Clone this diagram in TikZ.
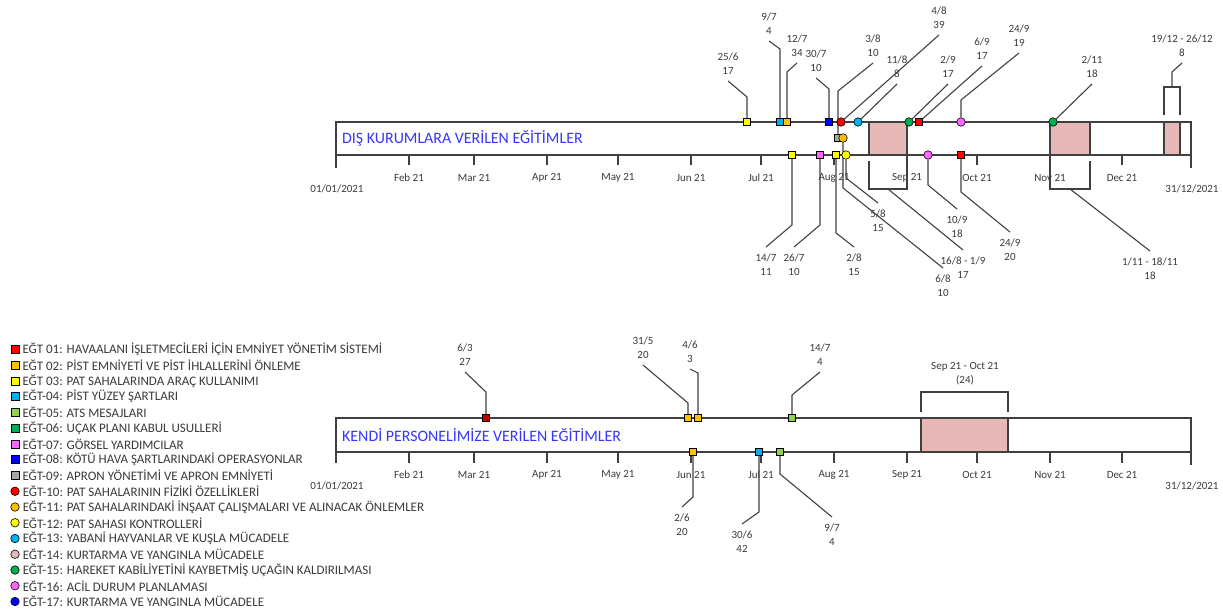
\documentclass[tikz,border=0pt]{standalone}
\usepackage{fontspec}
\setmainfont{Carlito}
\usepackage{tikz}
\usetikzlibrary{calc}
\usetikzlibrary{positioning}
\usetikzlibrary{backgrounds}

\definecolor{egtred}{HTML}{FF0000}
\definecolor{egtdarkred}{HTML}{C00000}
\definecolor{egtorange}{HTML}{FFC000}
\definecolor{egtyellow}{HTML}{FFFF00}
\definecolor{egtsky}{HTML}{00B0F0}
\definecolor{egtlime}{HTML}{92D050}
\definecolor{egtgreen}{HTML}{00B050}
\definecolor{egtpink}{HTML}{FF66FF}
\definecolor{egtblue}{HTML}{0000FF}
\definecolor{egtgray}{HTML}{A6A6A6}
\definecolor{egtrose}{HTML}{E6B8B7}
\definecolor{linegray}{HTML}{404040}
\definecolor{textgray}{HTML}{3A3A3A}
\definecolor{titleblue}{HTML}{3535FF}

\tikzset{
  hat/.style={draw=linegray, line width=1.1pt},
  kare/.style={rectangle, draw=black, line width=0.6pt, minimum size=7pt, inner sep=0pt, fill=#1},
  yuvarlak/.style={circle, draw=black, line width=0.6pt, minimum size=8.5pt, inner sep=0pt, fill=#1},
  etiket/.style={font=\fontsize{11}{14}\selectfont, text=textgray, align=center, inner sep=1.5pt},
  ay/.style={font=\fontsize{11}{13}\selectfont, text=textgray},
  aralik/.style={fill=egtrose, draw=linegray, line width=1.1pt},
  baslik/.style={font=\fontsize{15.9}{18}\selectfont, text=titleblue, anchor=west, inner sep=0pt},
  lejant/.style={font=\fontsize{13}{15}\selectfont, text=textgray, inner sep=0pt},
}

\begin{document}
\begin{tikzpicture}[x=1pt, y=-1pt]
  \useasboundingbox (0,0) rectangle (1223,615);

  % ---- DIS KURUMLAR ----
  \draw [hat] (336,122) rectangle (1191,155);
  \draw [hat] (336,155) -- (336,168); % baslangic
  \draw [hat] (1191,155) -- (1191,168); % bitis
  \node [baslik] (dbaslik) at (342,138) {DIŞ KURUMLARA VERİLEN EĞİTİMLER};
  \node [ay] (dbas) at (337,189) {01/01/2021};
  \node [ay] (dson) at (1192,189) {31/12/2021};

  % ---- KENDI PERSONEL ----
  \draw [hat] (336,418) rectangle (1191,452);
  \draw [hat] (336,452) -- (336,463);
  \draw [hat] (1191,452) -- (1191,465);
  \node [baslik] (kbaslik) at (342,435) {KENDİ PERSONELİMİZE VERİLEN EĞİTİMLER};
  \node [ay] (kbas) at (337,486) {01/01/2021};
  \node [ay] (kson) at (1192,486) {31/12/2021};

  % aylar, iki cizgi icin
  \foreach \x/\ay in {409/Feb 21, 474/Mar 21, 547/Apr 21, 618/May 21, 691/Jun 21, 761/Jul 21, 834/Aug 21, 907/Sep 21, 977/Oct 21, 1050/Nov 21, 1122/Dec 21} {
    \draw [hat] (\x,155) -- (\x,165);
    \node [ay] (dm\x) at (\x,178) {\ay};
    \draw [hat] (\x,452) -- (\x,463);
    \node [ay] (km\x) at (\x,475) {\ay};
  }

  % araliklar
  \draw [aralik] (869,122) rectangle (907,155);
  \draw [aralik] (1050,122) rectangle (1090,155);
  \draw [aralik] (1164,122) rectangle (1180,155);
  \draw [aralik] (921,418) rectangle (1008,452);
  \draw [hat] (869,161) -- (869,189) -- (907,189) -- (907,161);
  \draw [hat] (1050,161) -- (1050,189) -- (1090,189) -- (1090,161);
  \draw [hat] (1164,115) -- (1164,87) -- (1180,87) -- (1180,115);
  \draw [hat] (921,412) -- (921,392) -- (1008,392) -- (1008,412);
  \coordinate (da1) at (888,189);
  \coordinate (da2) at (1070,189);
  \coordinate (da3) at (1172,87);
  \coordinate (ka4) at (965,392);

  % isaretler: dis kurumlar, ust
  \node [kare=egtyellow] (d01) at (747,122) {};
  \node [kare=egtsky] (d02) at (780,122) {};
  \node [kare=egtorange] (d03) at (787,122) {};
  \node [kare=egtblue] (d04) at (829,122) {};
  \node [kare=egtgray] (d05) at (838,138) {};
  \node [yuvarlak=egtorange] (d06) at (843,138) {};
  \node [yuvarlak=egtred] (d07) at (841,122) {};
  \node [yuvarlak=egtsky] (d08) at (858,122) {};
  \node [yuvarlak=egtgreen] (d09) at (909,122) {};
  \node [kare=egtred] (d10) at (919,122) {};
  \node [yuvarlak=egtpink] (d11) at (961,122) {};
  \node [yuvarlak=egtgreen] (d12) at (1053,122) {};
  % alt
  \node [kare=egtyellow] (d13) at (792,155) {};
  \node [kare=egtpink] (d14) at (820,155) {};
  \node [kare=egtyellow] (d15) at (836,155) {};
  \node [yuvarlak=egtyellow] (d16) at (846,155) {};
  \node [yuvarlak=egtpink] (d17) at (928,155) {};
  \node [kare=egtred] (d18) at (961,155) {};

  % etiketler
  \coordinate (k01) at (728,81);   \node [etiket, above=5pt of k01] (e01) {25/6\\17};
  \coordinate (k02) at (769,41);   \node [etiket, above=5pt of k02] (e02) {9/7\\4};
  \coordinate (k03) at (797,63);   \node [etiket, above=5pt of k03] (e03) {12/7\\34};
  \coordinate (k04) at (816,78);   \node [etiket, above=5pt of k04] (e04) {30/7\\10};
  \coordinate (k05) at (873,63);   \node [etiket, above=5pt of k05] (e05) {3/8\\10};
  \coordinate (k06) at (943,268);  \node [etiket, below=5pt of k06] (e06) {6/8\\10};
  \coordinate (k07) at (939,35);   \node [etiket, above=5pt of k07] (e07) {4/8\\39};
  \coordinate (k08) at (897,84);   \node [etiket, above=5pt of k08] (e08) {11/8\\8};
  \coordinate (k09) at (948,84);   \node [etiket, above=5pt of k09] (e09) {2/9\\17};
  \coordinate (k10) at (982,66);   \node [etiket, above=5pt of k10] (e10) {6/9\\17};
  \coordinate (k11) at (1019,53);  \node [etiket, above=5pt of k11] (e11) {24/9\\19};
  \coordinate (k12) at (1092,84);  \node [etiket, above=5pt of k12] (e12) {2/11\\18};
  \coordinate (k13) at (766,247);  \node [etiket, below=5pt of k13] (e13) {14/7\\11};
  \coordinate (k14) at (794,247);  \node [etiket, below=5pt of k14] (e14) {26/7\\10};
  \coordinate (k15) at (854,247);  \node [etiket, below=5pt of k15] (e15) {2/8\\15};
  \coordinate (k16) at (878,203);  \node [etiket, below=5pt of k16] (e16) {5/8\\15};
  \coordinate (k17) at (957,209);  \node [etiket, below=5pt of k17] (e17) {10/9\\18};
  \coordinate (k18) at (1010,232); \node [etiket, below=5pt of k18] (e18) {24/9\\20};
  \coordinate (ka1) at (963,250);  \node [etiket, below=5pt of ka1] (ea1) {16/8 - 1/9\\17};
  \coordinate (ka2) at (1150,251); \node [etiket, below=5pt of ka2] (ea2) {1/11 - 18/11\\18};
  \coordinate (ka3) at (1182,63);  \node [etiket, above=5pt of ka3] (ea3) {19/12 - 26/12\\8};
  \node [etiket, above=5pt of ka4] (ea4) {Sep 21 - Oct 21\\(24)};

  % isaretler: kendi personel
  \node [kare=egtdarkred] (b01) at (486,418) {};
  \node [kare=egtorange] (b02) at (688,418) {};
  \node [kare=egtorange] (b03) at (698,418) {};
  \node [kare=egtlime] (b04) at (792,418) {};
  \node [kare=egtorange] (b05) at (693,452) {};
  \node [kare=egtsky] (b06) at (759,452) {};
  \node [kare=egtlime] (b07) at (780,452) {};
  \coordinate (c01) at (465,372);  \node [etiket, above=5pt of c01] (f01) {6/3\\27};
  \coordinate (c02) at (643,365);  \node [etiket, above=5pt of c02] (f02) {31/5\\20};
  \coordinate (c03) at (690,369);  \node [etiket, above=5pt of c03] (f03) {4/6\\3};
  \coordinate (c04) at (820,372);  \node [etiket, above=5pt of c04] (f04) {14/7\\4};
  \coordinate (c05) at (682,507);  \node [etiket, below=5pt of c05] (f05) {2/6\\20};
  \coordinate (c06) at (742,524);  \node [etiket, below=5pt of c06] (f06) {30/6\\42};
  \coordinate (c07) at (832,517);  \node [etiket, below=5pt of c07] (f07) {9/7\\4};

  % baglanti cizgileri, isaretlerin arkasinda
  \begin{scope}[on background layer]
    \draw [hat] (d01) -- ++(0,-25) -- (k01);
    \draw [hat] (d02) -- ++(0,-73) -- (k02);
    \draw [hat] (d03) -- ++(0,-50) -- (k03);
    \draw [hat] (d04) -- ++(0,-33) -- (k04);
    \draw [hat] (d05) -- ++(0,-47) -- (k05);
    \draw [hat] (d06) -- ++(0,50) -- (k06);
    \draw [hat] (d07) -- (k07);
    \draw [hat] (d08) -- (k08);
    \draw [hat] (d09) -- (k09);
    \draw [hat] (d10) -- (k10);
    \draw [hat] (d11) -- ++(0,-22) -- (k11);
    \draw [hat] (d12) -- (k12);
    \draw [hat] (d13) -- ++(0,70) -- (k13);
    \draw [hat] (d14) -- ++(0,70) -- (k14);
    \draw [hat] (d15) -- ++(0,78) -- (k15);
    \draw [hat] (d16) -- ++(0,23) -- (k16);
    \draw [hat] (d17) -- ++(0,30) -- (k17);
    \draw [hat] (d18) -- ++(0,37) -- (k18);
    \draw [hat] (da1) -- (ka1);
    \draw [hat] (da2) -- (ka2);
    \draw [hat] (da3) -- ++(0,-15) -- (ka3);
    \draw [hat] (b01) -- ++(0,-26) -- (c01);
    \draw [hat] (b02) -- ++(0,-15) -- (c02);
    \draw [hat] (b03) -- ++(0,-45) -- (c03);
    \draw [hat] (b04) -- ++(0,-23) -- (c04);
    \draw [hat] (b05) -- ++(0,45) -- (c05);
    \draw [hat] (b06) -- ++(0,60) -- (c06);
    \draw [hat] (b07) -- ++(0,22) -- (c07);
  \end{scope}

  % lejant
  \foreach \i/\col/\txt in {1/egtred/EĞT 01: HAVAALANI İŞLETMECİLERİ İÇİN EMNİYET YÖNETİM SİSTEMİ,
      2/egtorange/EĞT 02: PİST EMNİYETİ VE PİST İHLALLERİNİ ÖNLEME,
      3/egtyellow/EĞT 03: PAT SAHALARINDA ARAÇ KULLANIMI,
      4/egtsky/EĞT-04: PİST YÜZEY ŞARTLARI,
      5/egtlime/EĞT-05: ATS MESAJLARI,
      6/egtgreen/EĞT-06: UÇAK PLANI KABUL USULLERİ,
      7/egtpink/EĞT-07: GÖRSEL YARDIMCILAR,
      8/egtblue/EĞT-08: KÖTÜ HAVA ŞARTLARINDAKİ OPERASYONLAR,
      9/egtgray/EĞT-09: APRON YÖNETİMİ VE APRON EMNİYETİ} {
    \node [kare=\col, minimum size=8pt] (lk\i) at (15,{349.5+15.75*(\i-1)}) {};
    \node [lejant, right=3pt of lk\i] (lt\i) {\txt};
  }
  \foreach \i/\col/\txt in {10/egtred/EĞT-10: PAT SAHALARININ FİZİKİ ÖZELLİKLERİ,
      11/egtorange/EĞT-11: PAT SAHALARINDAKİ İNŞAAT ÇALIŞMALARI VE ALINACAK ÖNLEMLER,
      12/egtyellow/EĞT-12: PAT SAHASI KONTROLLERİ,
      13/egtsky/EĞT-13: YABANİ HAYVANLAR VE KUŞLA MÜCADELE,
      14/egtrose/EĞT-14: KURTARMA VE YANGINLA MÜCADELE,
      15/egtgreen/EĞT-15: HAREKET KABİLİYETİNİ KAYBETMİŞ UÇAĞIN KALDIRILMASI,
      16/egtpink/EĞT-16: ACİL DURUM PLANLAMASI,
      17/egtblue/EĞT-17: KURTARMA VE YANGINLA MÜCADELE} {
    \node [yuvarlak=\col, minimum size=8.5pt] (lk\i) at (15,{349.5+15.75*(\i-1)}) {};
    \node [lejant, right=3pt of lk\i] (lt\i) {\txt};
  }
\end{tikzpicture}
\end{document}
